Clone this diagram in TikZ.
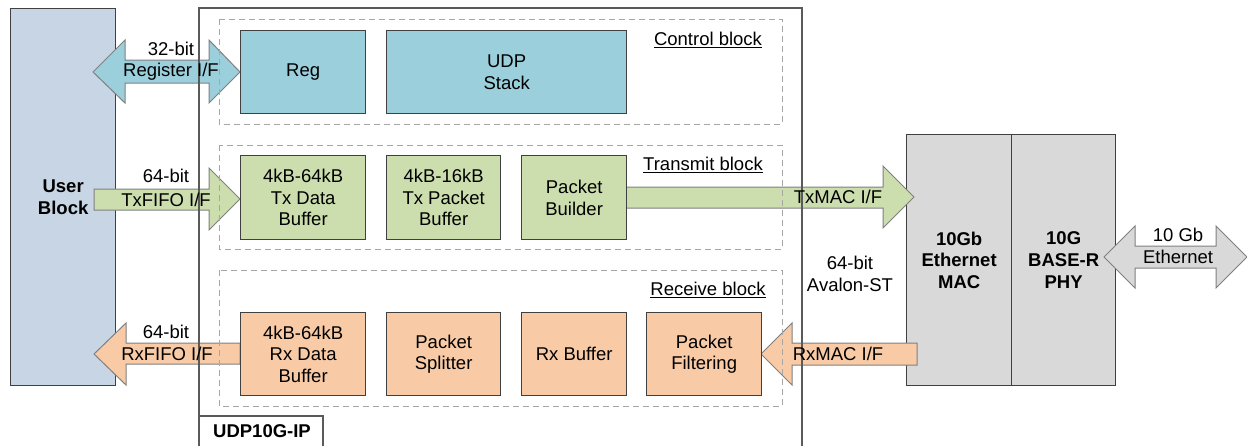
\documentclass[tikz,border=0pt]{standalone}
\usepackage{fontspec}
\setmainfont{Liberation Sans}
\usetikzlibrary{calc}
\definecolor{ublue}{HTML}{C8D5E4}
\definecolor{ccyan}{HTML}{9BCFDC}
\definecolor{tgreen}{HTML}{CCDDAE}
\definecolor{rorange}{HTML}{F8CBA6}
\definecolor{mgrey}{HTML}{D9D9D9}
\definecolor{edgec}{HTML}{404040}
\definecolor{framec}{HTML}{5A5A5A}
\definecolor{dashc}{HTML}{A6A6A6}
\definecolor{arrc}{HTML}{808080}
\begin{document}
\begin{tikzpicture}[x=1pt,y=-1pt,
  font=\fontsize{18.5}{21.7}\selectfont,
  box/.style={draw=edgec, line width=1.3pt, align=center, inner sep=0pt, anchor=north west},
  blockarrow/.style={draw=arrc, line width=1pt, line join=miter},
  grp/.style={draw=dashc, line width=1pt, dash pattern=on 6pt off 4pt},
  lbl/.style={inner sep=0pt, align=center},
  ttl/.style={inner sep=0pt}]
\useasboundingbox (0,0) rectangle (1247,445);

% outer blocks
\node[box, fill=ublue, minimum width=105pt, minimum height=377pt, font=\fontsize{18.5}{21.7}\selectfont\bfseries] (user) at (10,8) {User\\Block};
\node[box, fill=mgrey, minimum width=105pt, minimum height=251pt, font=\fontsize{18.5}{21.7}\selectfont\bfseries] (mac) at (906,134) {10Gb\\Ethernet\\MAC};
\node[box, fill=mgrey, minimum width=104pt, minimum height=251pt, font=\fontsize{18.5}{21.7}\selectfont\bfseries] (phy) at (1011,134) {10G\\BASE-R\\PHY};

% block arrows
\draw[blockarrow, fill=ccyan] (93,72) -- (125,40) -- (125,60) -- (209,60) -- (209,40) -- (240,72) -- (209,103) -- (209,83) -- (125,83) -- (125,103) -- cycle;
\draw[blockarrow, fill=tgreen] (94,189) -- (209,189) -- (209,168) -- (240,199) -- (209,230) -- (209,210) -- (94,210) -- cycle;
\draw[blockarrow, fill=rorange] (240,343) -- (126,343) -- (126,323) -- (94,354) -- (126,385) -- (126,364) -- (240,364) -- cycle;
\draw[blockarrow, fill=tgreen] (626,187) -- (883,187) -- (883,166) -- (914,197) -- (883,228) -- (883,208) -- (626,208) -- cycle;
\draw[blockarrow, fill=rorange] (917,343) -- (792,343) -- (792,323) -- (761,354) -- (792,385) -- (792,365) -- (917,365) -- cycle;
\draw[blockarrow, fill=mgrey] (1104,257) -- (1135,226) -- (1135,246) -- (1216,246) -- (1216,226) -- (1247,257) -- (1216,288) -- (1216,268) -- (1135,268) -- (1135,288) -- cycle;

% UDP10G-IP frame
\draw[framec, line width=1.2pt] (199,452) -- (199,8) -- (802,8) -- (802,452);
\draw[framec, line width=1.2pt] (199,416) -- (323,416) -- (323,452);
\node[ttl, font=\fontsize{18.5}{21.7}\selectfont\bfseries] (ipname) at (262,431) {UDP10G-IP};

% group boxes
\draw[grp] (219,19) rectangle (782,124);
\draw[grp] (219,145) rectangle (782,249);
\draw[grp] (219,270) rectangle (782,406);
\node[ttl] (tctl) at (708,40) {\underline{Control block}};
\node[ttl] (ttx) at (703,165) {\underline{Transmit block}};
\node[ttl] (trx) at (708,290) {\underline{Receive block}};

% inner boxes
\node[box, fill=ccyan, minimum width=125pt, minimum height=83pt] (reg) at (240,30) {Reg};
\node[box, fill=ccyan, minimum width=240pt, minimum height=83pt] (udp) at (386,30) {UDP\\Stack};
\node[box, fill=tgreen, minimum width=125pt, minimum height=84pt] (txd) at (240,155) {4kB-64kB\\Tx Data\\Buffer};
\node[box, fill=tgreen, minimum width=114pt, minimum height=84pt] (txp) at (386,155) {4kB-16kB\\Tx Packet\\Buffer};
\node[box, fill=tgreen, minimum width=105pt, minimum height=84pt] (pb) at (521,155) {Packet\\Builder};
\node[box, fill=rorange, minimum width=125pt, minimum height=83pt] (rxd) at (240,312) {4kB-64kB\\Rx Data\\Buffer};
\node[box, fill=rorange, minimum width=114pt, minimum height=83pt] (ps) at (386,312) {Packet\\Splitter};
\node[box, fill=rorange, minimum width=105pt, minimum height=83pt] (rxb) at (521,312) {Rx Buffer};
\node[box, fill=rorange, minimum width=115pt, minimum height=83pt] (pf) at (646,312) {Packet\\Filtering};

% arrow labels
\node[lbl] (l32) at (171,49) {32-bit};
\node[lbl] (lreg) at (171,72) {Register I/F};
\node[lbl] (l64a) at (166,176) {64-bit};
\node[lbl] (ltxf) at (166,200) {TxFIFO I/F};
\node[lbl] (l64b) at (166,332) {64-bit};
\node[lbl] (lrxf) at (167,354) {RxFIFO I/F};
\node[lbl] (ltxm) at (838,197) {TxMAC I/F};
\node[lbl] (lrxm) at (838,354) {RxMAC I/F};
\node[lbl] (lav) at (850,274) {64-bit\\Avalon-ST};
\node[lbl] (l10) at (1178,235) {10 Gb};
\node[lbl] (leth) at (1178,257) {Ethernet};
\end{tikzpicture}
\end{document}
